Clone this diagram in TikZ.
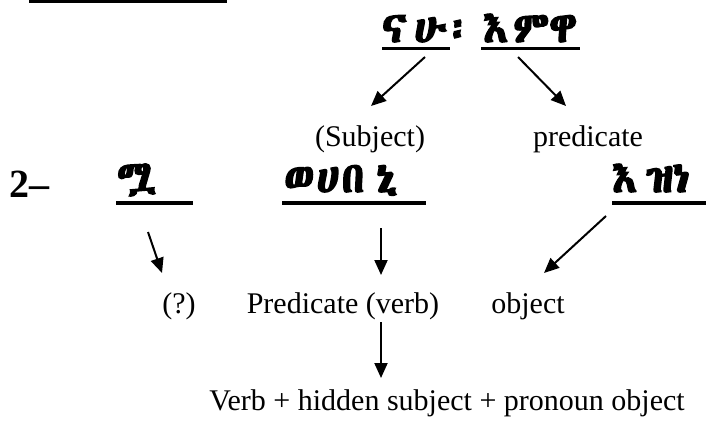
\documentclass[tikz,border=0pt]{standalone}
\usepackage{fontspec}
\usetikzlibrary{arrows.meta}
\setmainfont{Liberation Serif}
% Ethiopic family: take the first one that is available
\IfFontExistsTF{Abyssinica SIL}
  {\newfontfamily\ethfont{Abyssinica SIL}[FakeBold=4]}
  {\IfFontExistsTF{FreeSerif.otf}
    {\newfontfamily\ethfont{FreeSerif.otf}[FakeBold=4]}
    {\newfontfamily\ethfont{DejaVu Sans}}}

\tikzset{
  eth/.style={inner sep=0pt, anchor=base west, font=\ethfont\fontsize{42}{48}\selectfont},
  lbl/.style={inner sep=0pt, anchor=base, font=\fontsize{30}{36}\selectfont},
  uline/.style={line width=3.5pt},
  arr/.style={line width=2pt, -{Triangle[length=15pt,width=13pt]}},
}

\begin{document}
\begin{tikzpicture}[x=1pt,y=-1pt]
\useasboundingbox (0,0) rectangle (706,424);

% rule at the top edge
\fill (29,0) rectangle (227,3);

% sentence 1
\node[eth] (n1) at (382,42) {ና\hspace{8pt}ሁ፡};
\node[eth] (n2) at (483,42) {እ\hspace{5pt}ምዋ};
\draw[uline] (382,48.5) -- (450,48.5);
\draw[uline] (481,48.5) -- (580,48.5);

\node[lbl] (subj) at (370,146) {(Subject)};
\node[lbl] (pred) at (588,146) {predicate};

\coordinate (a1s) at (425,57);  \coordinate (a1e) at (371,106);
\coordinate (a2s) at (518,57);  \coordinate (a2e) at (566,106);
\draw[arr] (a1s) -- (a1e);
\draw[arr] (a2s) -- (a2e);

% sentence 2
\node[inner sep=0pt, anchor=base west, font=\bfseries\fontsize{40}{44}\selectfont] (num) at (9,197) {2–};
\node[eth] (w1) at (117,191) {ሟ};
\node[eth] (w2) at (284,192) {ወ\hspace{3pt}ሀ\hspace{3pt}በ\hspace{12pt}ኒ};
\node[eth] (w3) at (612,192) {እ\hspace{9pt}ዝነ};
\draw[uline] (116,203) -- (193,203);
\draw[uline] (282,203) -- (426,203);
\draw[uline] (612,203) -- (706,203);

\node[lbl] (q)   at (179,313) {(?)};
\node[lbl] (pv)  at (343,313) {Predicate (verb)};
\node[lbl] (obj) at (528,313) {object};
\node[lbl] (vhs) at (447,410) {Verb + hidden subject + pronoun object};

\coordinate (b1s) at (148,232); \coordinate (b1e) at (162,273);
\coordinate (b2s) at (381,228); \coordinate (b2e) at (381,275);
\coordinate (b3s) at (606,216); \coordinate (b3e) at (544,273);
\coordinate (b4s) at (381,322); \coordinate (b4e) at (381,378);
\draw[arr] (b1s) -- (b1e);
\draw[arr] (b2s) -- (b2e);
\draw[arr] (b3s) -- (b3e);
\draw[arr] (b4s) -- (b4e);
\end{tikzpicture}
\end{document}
